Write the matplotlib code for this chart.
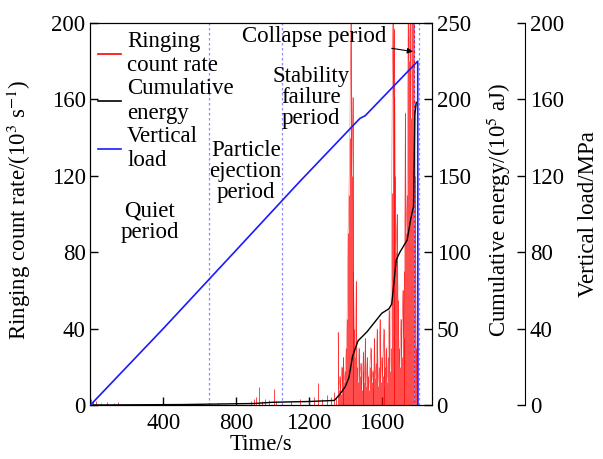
import matplotlib
matplotlib.use("Agg")
import matplotlib.pyplot as plt
import numpy as np

plt.rcParams["font.family"] = ["Liberation Serif", "DejaVu Serif"]
plt.rcParams["mathtext.fontset"] = "stix"
plt.rcParams["font.size"] = 16.5

# ringing count rate (10^3 s^-1), sparse early events
ring_t_early = [5, 15, 30, 60, 90, 130, 150, 650, 700, 880, 900, 910, 925, 940,
                960, 980, 1008, 1020, 1050, 1100, 1150, 1200, 1230, 1250, 1270,
                1300, 1320, 1340, 1350]
ring_v_early = [3, 2, 2, 1, 1.5, 1, 1.5, 0.5, 1, 2, 3, 4, 9.5, 2,
                3, 2.5, 8.5, 2, 1.5, 2, 3, 2, 4, 11.5, 3,
                5, 4, 7, 4]
# dense acoustic emission after 1360 s, one value every 5 s
ring_t_dense = np.arange(1360, 1800, 5)
ring_v_dense = [38, 8, 15, 6, 20, 10, 25, 12, 18, 30,
                45, 90, 110, 140, 200, 120, 161, 70, 40, 25,
                65, 20, 12, 30, 15, 22, 8, 18, 28, 12,
                35, 10, 25, 15, 8, 20, 30, 12, 18, 9,
                35, 14, 22, 40, 10, 20, 45, 12, 25, 15,
                40, 10, 20, 30, 12, 25, 50, 18, 30, 111,
                200, 161, 197, 120, 80, 100, 55, 30, 20, 45,
                25, 60, 35, 70, 153, 90, 110, 200, 180, 200,
                150, 200, 200, 200, 200, 120, 30, 5]

# cumulative energy (10^5 aJ)
energy_t = [0, 500, 900, 1000, 1200, 1340, 1370, 1400, 1420, 1440, 1470, 1520,
            1560, 1600, 1640, 1655, 1680, 1700, 1740, 1760, 1775, 1782, 1790]
energy_v = [0, 0.3, 1.0, 1.8, 2.3, 3, 7, 12, 18, 32, 42, 48,
            54, 60, 63, 66, 95, 100, 108, 122, 130, 190, 198]

# vertical load (MPa)
load_t = [0, 400, 800, 1150, 1480, 1510, 1798, 1799]
load_v = [0, 40, 81, 117, 150, 151.5, 180, 0]

period_bounds = [650, 1055, 1780, 1805]

fig = plt.figure(figsize=(6.03, 4.59), dpi=100)
ax = fig.add_axes([0.150, 0.1176, 0.566, 0.8324])
ax2 = ax.twinx()
ax3 = ax.twinx()

ring_t = np.concatenate([ring_t_early, ring_t_dense])
ring_v = np.concatenate([ring_v_early, ring_v_dense])
ax.vlines(ring_t, 0, ring_v, color="red", lw=0.5)
ax.plot(ring_t_dense, ring_v_dense, color="red", lw=0.4, alpha=0.6)
for b in period_bounds:
    ax.axvline(b, color="#8c8cff", lw=0.9, ls=(0, (2, 2)))

ax2.plot(energy_t, energy_v, color="black", lw=1.0)
ax3.plot(load_t, load_v, color="#1a1aff", lw=1.2)

ax.set_xlim(0, 1875)
ax.set_ylim(0, 200)
ax2.set_ylim(0, 250)
ax3.set_ylim(0, 200)
ax.set_xticks([400, 800, 1200, 1600])
ax.set_yticks([0, 40, 80, 120, 160, 200])
ax2.set_yticks([0, 50, 100, 150, 200, 250])
ax3.set_yticks([0, 40, 80, 120, 160, 200])

for a in (ax, ax2, ax3):
    a.tick_params(direction="in", length=6, width=1.0)
ax.tick_params(axis="x", pad=6)

ax3.spines["right"].set_position(("outward", 67))
for s in ("top", "left", "bottom"):
    ax3.spines[s].set_visible(False)

ax.set_xlabel("Time/s", labelpad=0)
ax.set_ylabel(r"Ringing count rate/(10$^3$ s$^{-1}$)")
ax2.set_ylabel(r"Cumulative energy/(10$^5$ aJ)")
ax3.set_ylabel("Vertical load/MPa")
ax.yaxis.set_label_coords(-0.168, 0.51)
ax2.yaxis.set_label_coords(1.152, 0.51)
ax3.yaxis.set_label_coords(1.428, 0.5)

ax.text(326, 96, "Quiet\nperiod", ha="center", va="center", linespacing=1.0)
ax.text(853, 122, "Particle\nejection\nperiod", ha="center", va="center", linespacing=1.0)
ax.text(1210, 161, "Stability\nfailure\nperiod", ha="center", va="center", linespacing=1.0)
ax.annotate("Collapse period", xy=(1772, 185), xytext=(1228, 193),
            ha="center", va="center",
            arrowprops=dict(arrowstyle="-|>", color="black", lw=0.8,
                            mutation_scale=8, shrinkA=2, shrinkB=0))

handles = [plt.Line2D([], [], color="red", lw=1.2),
           plt.Line2D([], [], color="black", lw=1.2),
           plt.Line2D([], [], color="#1a1aff", lw=1.2)]
ax.legend(handles, ["Ringing\ncount rate", "Cumulative\nenergy", "Vertical\nload"],
          loc="upper left", frameon=False, handlelength=1.0, handletextpad=0.25,
          labelspacing=0.1, borderaxespad=0.25, borderpad=0.1)

fig.savefig("out.png", dpi=100)
